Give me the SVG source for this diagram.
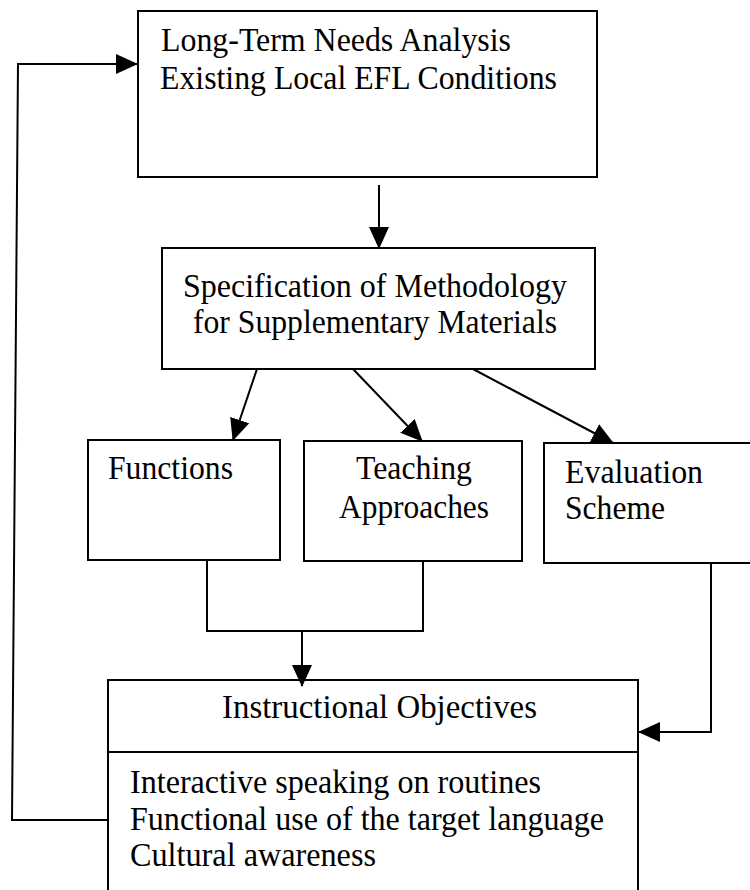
<svg xmlns="http://www.w3.org/2000/svg" width="750" height="890" viewBox="0 0 750 890">
  <style>
    .box { fill: #ffffff; stroke: #000000; stroke-width: 2; }
    .conn { fill: none; stroke: #000000; stroke-width: 2; }
    .t { font-family: "Liberation Serif", "Times New Roman", serif; font-size: 33px; fill: #000000; }
  </style>
  <defs>
    <marker id="arrow" markerUnits="userSpaceOnUse" markerWidth="22" markerHeight="22" viewBox="0 0 22 22" refX="21" refY="11" orient="auto">
      <path d="M0,1 L22,11 L0,21 Z" fill="#000000"/>
    </marker>
  </defs>
  <rect width="750" height="890" fill="#ffffff"/>

  <g id="node-needs">
    <rect class="box" x="138" y="11" width="459" height="166"/>
    <text class="t" x="161" y="51" textLength="350" lengthAdjust="spacingAndGlyphs">Long-Term Needs Analysis</text>
    <text class="t" x="160" y="89" textLength="397" lengthAdjust="spacingAndGlyphs">Existing Local EFL Conditions</text>
  </g>

  <g id="node-spec">
    <rect class="box" x="162" y="248" width="433" height="121"/>
    <text class="t" x="183" y="297" textLength="384" lengthAdjust="spacingAndGlyphs">Specification of Methodology</text>
    <text class="t" x="193" y="333" textLength="364" lengthAdjust="spacingAndGlyphs">for Supplementary Materials</text>
  </g>

  <g id="node-functions">
    <rect class="box" x="88" y="440" width="192" height="120"/>
    <text class="t" x="108" y="479" textLength="125" lengthAdjust="spacingAndGlyphs">Functions</text>
  </g>

  <g id="node-teaching">
    <rect class="box" x="304" y="441" width="218" height="120"/>
    <text class="t" x="356" y="479" textLength="116" lengthAdjust="spacingAndGlyphs">Teaching</text>
    <text class="t" x="339" y="518" textLength="150" lengthAdjust="spacingAndGlyphs">Approaches</text>
  </g>

  <g id="node-evaluation">
    <rect class="box" x="544" y="443" width="210" height="120"/>
    <text class="t" x="565" y="483" textLength="138" lengthAdjust="spacingAndGlyphs">Evaluation</text>
    <text class="t" x="565" y="519" textLength="100" lengthAdjust="spacingAndGlyphs">Scheme</text>
  </g>

  <g id="node-objectives">
    <rect class="box" x="108" y="680" width="530" height="220"/>
    <line class="conn" x1="108" y1="752" x2="638" y2="752"/>
    <text class="t" x="222" y="718" textLength="315" lengthAdjust="spacingAndGlyphs">Instructional Objectives</text>
    <text class="t" x="130" y="793" textLength="411" lengthAdjust="spacingAndGlyphs">Interactive speaking on routines</text>
    <text class="t" x="130" y="830" textLength="474" lengthAdjust="spacingAndGlyphs">Functional use of the target language</text>
    <text class="t" x="130" y="866" textLength="246" lengthAdjust="spacingAndGlyphs">Cultural awareness</text>
  </g>

  <g id="connectors">
    <line class="conn" x1="379" y1="185" x2="379" y2="248" marker-end="url(#arrow)"/>
    <line class="conn" x1="257" y1="369" x2="233" y2="440" marker-end="url(#arrow)"/>
    <line class="conn" x1="353" y1="369" x2="422" y2="441" marker-end="url(#arrow)"/>
    <line class="conn" x1="473" y1="369" x2="613" y2="443" marker-end="url(#arrow)"/>
    <polyline class="conn" points="207,560 207,631 423,631 423,561"/>
    <line class="conn" x1="302" y1="631" x2="302" y2="686" marker-end="url(#arrow)"/>
    <polyline class="conn" points="711,563 711,732 639,732" marker-end="url(#arrow)"/>
    <polyline class="conn" points="108,820 12,820 18,64 137,64" marker-end="url(#arrow)"/>
  </g>
</svg>
